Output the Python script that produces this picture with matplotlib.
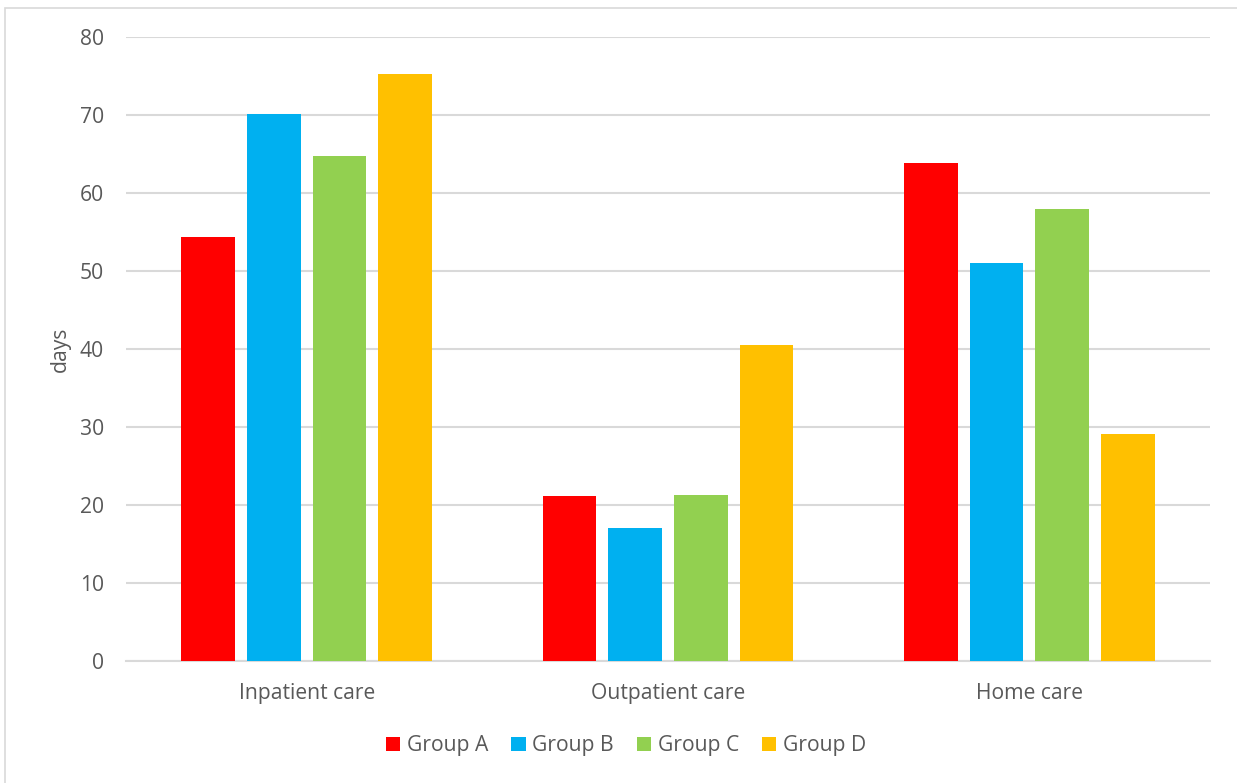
import matplotlib
matplotlib.use("Agg")
import matplotlib.pyplot as plt
import numpy as np
from matplotlib.patches import Rectangle

categories = ["Inpatient care", "Outpatient care", "Home care"]
groups = ["Group A", "Group B", "Group C", "Group D"]
group_a = [54.4, 21.2, 63.9]
group_b = [70.1, 17.1, 51.0]
group_c = [64.8, 21.3, 57.9]
group_d = [75.2, 40.5, 29.1]
series = [group_a, group_b, group_c, group_d]
colors = ["#FF0000", "#00B0F0", "#92D050", "#FFC000"]
y_ticks = [0, 10, 20, 30, 40, 50, 60, 70, 80]

plt.rcParams["font.family"] = ["Open Sans", "DejaVu Sans"]
text_color = "#595959"
grid_color = "#D9D9D9"
fs = 15.2

W, H = 1237, 783
fig = plt.figure(figsize=(W / 100, H / 100), dpi=100)
ax = fig.add_axes([126 / W, 1 - 661 / H, (1210 - 126) / W, (661 - 37) / H])

x = np.arange(len(categories))
bar_w = 0.149
pitch = 0.1816
for i, (vals, col, name) in enumerate(zip(series, colors, groups)):
    offs = (i - 1.5) * pitch
    ax.bar(x + offs, vals, width=bar_w, color=col, label=name, zorder=3)

ax.set_xlim(-0.5, 2.5)
ax.set_ylim(0, 80)
ax.set_yticks(y_ticks)
ax.set_xticks(x)
ax.set_xticklabels(categories)
ax.tick_params(axis="both", length=0, colors=text_color, labelsize=fs)
ax.tick_params(axis="y", pad=16)
ax.tick_params(axis="x", pad=16)
ax.grid(axis="y", color=grid_color, linewidth=1.5, zorder=0)
for side in ["top", "right", "left"]:
    ax.spines[side].set_visible(False)
ax.spines["bottom"].set_color(grid_color)
ax.spines["bottom"].set_linewidth(1.5)

fig.text(60 / W, 1 - 349 / H, "days", rotation=90, ha="center", va="center",
         color=text_color, fontsize=fs)

leg = fig.legend(loc="center", bbox_to_anchor=(626 / W, 1 - 746 / H),
                 ncol=4, frameon=False, handlelength=0.68, handleheight=0.68,
                 handletextpad=0.3, columnspacing=1.1, fontsize=fs)
for t in leg.get_texts():
    t.set_color(text_color)

# chart outline
fig.patches.append(Rectangle((5 / W, -0.1), 1.2, 1.1 - 8 / H, transform=fig.transFigure,
                             fill=False, edgecolor=grid_color, linewidth=1.2))

fig.savefig("out.png", dpi=100)
